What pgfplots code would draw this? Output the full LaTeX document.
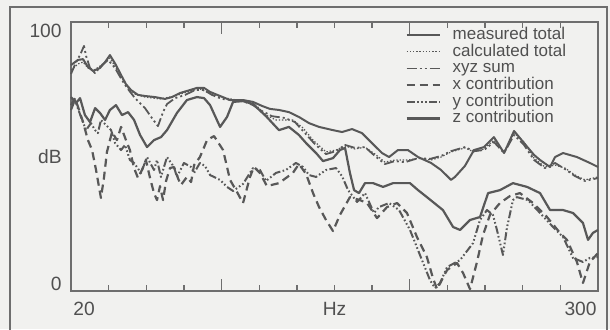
\documentclass[border=0pt]{standalone}
\usepackage{pgfplots}
\pgfplotsset{compat=1.18}
\usepackage{fontspec}
\setmainfont{Liberation Sans}
\definecolor{ink}{HTML}{585858}
\definecolor{axc}{HTML}{6E6E6E}
\definecolor{txt}{HTML}{505050}
\definecolor{bg}{HTML}{F1F1EF}
\newcommand{\lblfont}{\fontsize{8.5}{10}\selectfont}
\newcommand{\tckfont}{\fontsize{9.6}{11}\selectfont}
\begin{document}
\begin{tikzpicture}[x=1pt,y=1pt]
\useasboundingbox (0,0) rectangle (305,164.5);
\fill[bg] (0,0) rectangle (305,164.5);
\draw[axc, line width=0.8pt] (5,-5) rectangle (303.5,161);
\begin{axis}[
  scale only axis, width=263.5pt, height=134.5pt,
  at={(35.5pt,19pt)}, anchor=south west,
  xmin=20, xmax=300, ymin=0, ymax=100,
  axis line style={axc, line width=0.8pt},
  xtick={100,200}, xticklabels={},
  minor xtick={40,60,80,120,140,160,180,220,240,260,280},
  ytick=\empty, minor ytick={10,20,...,90},
  ytick pos=left, xtick pos=both,
  major tick length=6pt, minor tick length=3pt,
  tick style={axc, line width=0.7pt},
  clip=false,
  legend cell align=left,
  legend image code/.code={\draw[#1] (0pt,0pt) -- (16.5pt,0pt);},
  legend style={at={(rel axis cs:0.634,1)}, anchor=north west, yshift=-2.3pt,
    draw=none, fill=none, inner sep=0pt, row sep=0.35pt,
    font=\lblfont, text=txt,
    nodes={inner sep=0pt, text height=6.2pt, text depth=1.8pt},
    /tikz/every odd column/.append style={column sep=6pt}},
  every axis plot/.append style={ink, line join=round},
]
% measured total
\addplot[line width=1pt] coordinates {
(20,84.0)(23.7,85.9)(26.4,86.2)(29.0,83.3)(31.7,81.8)(35.4,82.9)(38.1,85.1)(40.7,87.7)
(43.9,84.0)(46.6,80.3)(49.2,76.9)(51.9,74.7)(55.6,72.9)(59.3,72.5)(64.6,72.1)(69.9,71.4)
(73.7,72.1)(77.9,73.6)(83.2,74.7)(86.9,75.5)(90.7,75.5)(93.9,74.0)(99.2,72.5)(104.5,71.0)
(111.4,71.0)(116.7,70.3)(121.5,68.8)(125.7,67.7)(130.5,67.3)(135.8,66.5)(141.1,64.7)
(146.5,62.4)(151.8,61.0)(159.2,59.8)(164.0,59.1)(169.3,60.2)(174.6,58.7)(179.9,55.0)
(185.2,51.3)(189.0,49.8)(193.7,52.4)(199.0,52.4)(204.4,49.8)(211.3,47.6)(216.6,45.0)
(221.9,41.3)(224.0,42.4)(229.3,46.5)(234.1,52.4)(239.4,53.5)(244.7,57.2)(250.1,51.3)
(255.4,59.5)(260.7,55.0)(266.0,50.6)(269.2,48.7)(274.5,46.1)(277.2,49.8)(281.4,51.3)
(288.8,49.8)(295.7,47.6)(300,46.1)};
\addlegendentry{measured total}
% calculated total
\addplot[line width=0.6pt, dash pattern=on 0.7pt off 0.9pt] coordinates {
(20,82.1)(23.7,84.4)(26.4,85.1)(29.0,82.9)(32.2,82.1)(35.4,83.6)(40.7,86.6)(43.9,82.9)
(47.1,79.2)(50.3,75.5)(54.0,73.2)(59.3,72.1)(67.3,71.4)(75.3,72.5)(83.2,74.4)(88.5,75.1)
(94.9,73.2)(102.3,71.7)(111.4,70.6)(118.2,69.1)(123.6,65.4)(128.9,63.6)(137.9,63.6)
(143.3,60.6)(148.6,56.1)(155.5,51.7)(160.8,52.4)(165.6,53.9)(170.9,52.8)(176.2,53.5)
(181.5,50.9)(186.8,47.9)(192.1,48.7)(199.0,48.7)(205.4,49.4)(211.3,48.7)(216.6,49.8)
(221.9,51.7)(229.3,53.2)(234.1,51.7)(239.4,52.8)(244.7,56.1)(250.1,51.7)(255.4,58.7)
(260.7,55.4)(266.0,49.4)(271.8,46.1)(277.2,46.8)(282.5,45.7)(287.8,43.1)(293.1,41.3)
(300,42.4)};
\addlegendentry{calculated total}
% xyz sum
\addplot[line width=0.9pt, dash pattern=on 5pt off 1.5pt on 1pt off 1.5pt on 1pt off 1.5pt] coordinates {
(20,80.7)(22.7,85.1)(24.8,87.7)(26.9,91.1)(28.0,87.4)(30.1,82.9)(32.8,81.0)(35.9,83.6)
(39.7,85.9)(43.4,82.9)(47.1,78.4)(49.8,75.5)(54.0,71.7)(59.3,68.0)(63.0,64.3)(66.2,61.3)
(68.9,66.5)(71.0,69.5)(75.3,71.7)(80.6,72.9)(85.9,74.7)(90.7,74.7)(94.9,72.9)(100.2,71.4)
(105.5,71.0)(111.4,70.6)(116.7,69.1)(121.5,66.9)(126.8,65.0)(133.7,64.3)(139.0,62.8)
(144.3,58.7)(149.6,54.6)(155.5,50.9)(160.8,52.0)(165.6,54.3)(170.9,53.2)(176.2,53.5)
(181.5,50.2)(186.8,47.2)(192.1,48.3)(197.5,47.9)(204.4,49.4)(210.7,49.1)(216.6,50.2)
(221.9,52.0)(229.3,53.5)(234.1,52.0)(239.4,52.4)(244.7,55.4)(250.1,51.3)(255.4,58.0)
(260.7,54.3)(266.0,48.7)(271.8,45.7)(277.2,47.6)(282.5,45.3)(287.8,42.7)(293.1,40.9)
(300,42.0)};
\addlegendentry{xyz sum}
% x contribution
\addplot[line width=1.1pt, dash pattern=on 4pt off 2.5pt] coordinates {
(20,69.1)(22.1,71.7)(24.3,67.3)(26.4,62.8)(29.0,56.1)(31.2,52.4)(33.3,45.0)(35.9,34.6)
(37.5,42.0)(39.1,51.7)(41.8,59.1)(44.4,56.1)(46.6,61.0)(49.2,56.1)(51.3,52.4)(53.5,45.7)
(55.6,42.0)(57.7,45.0)(59.8,48.7)(62.0,42.0)(64.1,36.4)(65.7,33.8)(67.3,39.0)(68.9,33.8)
(70.5,40.9)(72.6,45.7)(74.7,46.1)(76.8,42.0)(78.4,39.4)(81.6,42.4)(83.8,40.5)(85.4,46.8)
(88.5,49.8)(92.3,56.1)(96.0,57.6)(100.8,52.4)(104.5,41.3)(108.2,36.8)(111.4,32.7)
(115.1,42.4)(117.2,46.1)(120.4,43.9)(124.1,39.0)(130.5,40.1)(137.9,43.9)(141.1,47.2)
(144.9,43.5)(148.6,36.4)(151.8,31.2)(155.5,26.4)(159.2,22.3)(162.9,28.3)(168.2,34.9)
(173.5,33.8)(177.3,32.7)(182.6,27.1)(187.9,31.2)(193.2,32.7)(198.5,29.0)(203.8,20.1)
(209.1,12.6)(212.3,4.8)(214.5,0.7)(219.8,7.8)(225.1,10.4)(228.3,6.7)(232.0,0.7)
(235.7,10.8)(238.9,20.8)(242.6,28.3)(247.9,32.7)(253.2,35.3)(258.5,36.4)(265.5,32.7)
(272.9,27.5)(279.8,21.6)(283.5,19.0)(288.8,10.8)(292.0,3.0)(295.7,10.8)(300,14.1)};
\addlegendentry{x contribution}
% y contribution
\addplot[line width=1pt, dash pattern=on 4pt off 1.2pt on 0.8pt off 1.2pt on 0.8pt off 1.2pt on 0.8pt off 1.2pt] coordinates {
(20,67.3)(22.1,71.0)(25.3,64.7)(28.0,59.8)(30.6,62.4)(32.8,59.8)(34.3,58.7)(35.9,63.6)
(38.6,61.7)(41.3,59.8)(43.4,55.0)(46.6,52.4)(48.7,54.3)(51.3,48.7)(53.5,47.6)(57.2,43.9)
(60.4,49.8)(64.1,45.0)(65.7,48.7)(67.8,42.4)(71.0,49.8)(74.7,46.1)(76.3,42.4)(80.0,47.6)
(83.8,46.1)(85.4,43.9)(88.5,47.6)(91.2,46.5)(93.9,43.1)(99.2,41.3)(102.9,38.7)(106.1,37.2)
(111.4,39.8)(116.7,45.7)(120.4,45.0)(123.6,40.9)(128.9,43.9)(134.2,45.0)(139.5,47.6)
(143.3,46.1)(146.5,43.1)(150.2,42.4)(155.5,45.0)(160.8,45.7)(164.0,42.7)(167.2,37.5)
(172.0,33.1)(176.2,36.4)(181.0,29.0)(183.6,31.2)(189.0,32.7)(194.3,30.1)(200.1,22.7)
(205.4,13.4)(210.7,4.1)(213.4,1.1)(216.1,3.0)(219.8,8.9)(226.7,11.5)(233.6,17.8)
(237.3,26.4)(241.0,30.1)(244.2,28.3)(246.3,22.7)(249.5,13.4)(251.6,23.4)(254.8,33.8)
(256.9,34.9)(262.8,33.8)(269.2,29.0)(276.1,23.8)(281.4,20.1)(286.7,12.3)(292.0,10.8)
(295.7,12.3)(300,12.6)};
\addlegendentry{y contribution}
% z contribution
\addplot[line width=1.1pt] coordinates {
(20,72.1)(22.7,69.9)(24.8,71.7)(27.4,65.4)(30.1,62.8)(32.8,68.0)(35.4,66.2)(38.1,63.6)
(40.7,67.3)(43.9,69.1)(47.1,65.4)(50.3,66.5)(53.5,63.6)(56.7,58.0)(60.4,53.5)(64.1,56.1)
(67.8,57.2)(71.0,59.8)(76.3,66.2)(81.6,71.0)(86.9,72.1)(90.7,71.7)(93.9,69.1)(99.2,61.0)
(102.9,64.7)(106.1,70.3)(111.4,70.6)(116.7,69.5)(123.6,65.0)(130.5,59.8)(135.8,61.0)
(141.1,58.0)(144.9,55.0)(150.2,51.3)(153.9,48.3)(159.2,49.4)(162.9,52.4)(165.6,53.2)
(168.2,43.9)(170.4,37.5)(173.0,36.4)(176.2,40.1)(180.5,40.1)(185.8,38.7)(191.1,40.1)
(200.1,40.1)(204.4,37.5)(209.1,34.9)(217.6,30.1)(223.0,23.8)(226.7,22.7)(232.0,26.4)
(237.3,27.5)(241.6,36.4)(247.9,37.5)(254.8,40.1)(262.3,38.7)(269.2,36.4)(274.5,30.1)
(281.4,30.1)(286.7,29.0)(292.0,25.3)(294.7,19.0)(297.3,21.6)(300,22.7)};
\addlegendentry{z contribution}
% axis labels
\node[anchor=east, inner sep=0pt, text=txt, font=\tckfont] at (rel axis cs:0,1) [xshift=-4.5pt, yshift=-4.5pt] {100};
\node[anchor=east, inner sep=0pt, text=txt, font=\tckfont] at (rel axis cs:0,0.5) [xshift=-4.5pt] {dB};
\node[anchor=east, inner sep=0pt, text=txt, font=\tckfont] at (rel axis cs:0,0) [xshift=-4.5pt, yshift=3.5pt] {0};
\node[anchor=north west, inner sep=0pt, text=txt, font=\tckfont] at (rel axis cs:0,0) [xshift=1pt, yshift=-5.5pt] {20};
\node[anchor=north, inner sep=0pt, text=txt, font=\tckfont] at (axis cs:160,0) [yshift=-5.5pt] {Hz};
\node[anchor=north east, inner sep=0pt, text=txt, font=\tckfont] at (rel axis cs:1,0) [xshift=-0.5pt, yshift=-5.5pt] {300};
\end{axis}
\end{tikzpicture}
\end{document}
